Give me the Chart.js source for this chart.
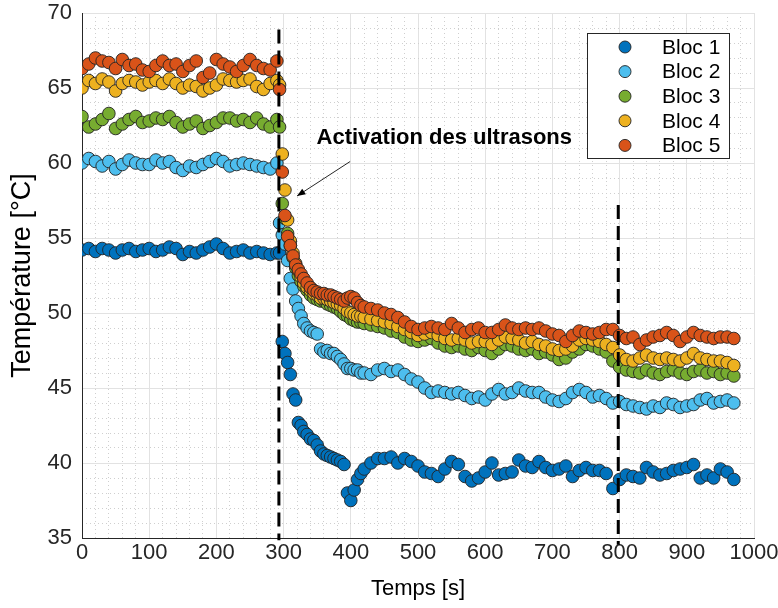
<!DOCTYPE html>
<html lang="fr">
<head>
<meta charset="utf-8">
<title>Température des blocs</title>
<script src="https://cdn.jsdelivr.net/npm/chart.js@4.4.1/dist/chart.umd.min.js"></script>
<style>
  html, body { margin: 0; padding: 0; background: #fff; }
  #wrap { width: 778px; height: 608px; }
</style>
</head>
<body>
<div id="wrap"><canvas id="chart-temperature" width="778" height="608"></canvas></div>
<script>
// Temps de mesure [s] (pas plus fin autour de l'activation des ultrasons)
const temps = [
    0, 10, 20, 30, 40, 50, 60, 70, 80, 90, 100, 110, 120, 130, 140, 150, 160, 170, 180, 190,
    200, 210, 220, 230, 240, 250, 260, 270, 280, 290,
    294,
    298, 302, 306, 310, 314, 318, 322, 326, 330,
    335, 340, 345, 350, 355, 360, 365, 370, 375, 380, 385, 390, 395, 400, 405, 410, 415, 420,
    430, 440, 450, 460, 470, 480, 490, 500, 510, 520, 530, 540, 550, 560, 570, 580, 590, 600,
    610, 620, 630, 640, 650, 660, 670, 680, 690, 700, 710, 720, 730, 740, 750, 760, 770, 780,
    790, 800, 810, 820, 830, 840, 850, 860, 870, 880, 890, 900, 910, 920, 930, 940, 950, 960, 970
];

// Températures [°C]
const bloc1 = [
    54.2, 54.3, 54.1, 54.3, 54.2, 54.0, 54.2, 54.3, 54.1, 54.2, 54.3, 54.1, 54.2, 54.4, 54.3, 53.9, 54.1, 54.0, 54.2, 54.4,
    54.6, 54.3, 54.0, 54.1, 54.2, 54.0, 54.1, 54.0, 53.9, 54.0,
    54.0,
    48.1, 47.3, 46.7, 45.9, 44.6, 44.2, 42.7, 42.5, 42.1,
    41.9, 41.6, 41.5, 41.2, 40.8, 40.6, 40.5, 40.4, 40.3, 40.2, 40.1, 39.9, 38.0, 37.5, 38.2, 38.9, 39.3, 39.6,
    40.0, 40.3, 40.3, 40.4, 40.0, 40.3, 40.1, 39.8, 39.4, 39.3, 39.1, 39.6, 40.1, 39.9, 39.1, 38.8, 39.0, 39.4,
    40.0, 39.2, 39.3, 39.4, 40.2, 39.8, 39.7, 40.1, 39.7, 39.5, 39.6, 39.8, 39.1, 39.5, 39.7, 39.5, 39.5, 39.3,
    38.3, 38.9, 39.2, 39.1, 39.0, 39.7, 39.4, 39.2, 39.3, 39.5, 39.6, 39.7, 39.9, 39.0, 39.2, 39.0, 39.6, 39.4, 38.9
];
const bloc2 = [
    60.0, 60.3, 60.1, 59.8, 60.1, 59.6, 59.9, 60.2, 60.0, 59.9, 59.9, 60.2, 60.0, 60.1, 59.7, 59.5, 59.8, 59.7, 59.9, 60.1,
    60.3, 60.1, 59.8, 59.9, 60.0, 59.9, 59.8, 59.7, 59.6, 60.0,
    56.0,
    55.2, 54.6, 53.5, 52.3, 51.6, 50.8, 50.3, 49.8, 49.3,
    49.0, 48.8, 48.7, 48.6, 47.6, 47.4, 47.5, 47.3, 47.3, 47.1, 46.9, 46.6, 46.3, 46.3, 46.2, 46.2, 46.0, 46.0,
    45.9, 46.2, 46.3, 46.1, 46.2, 45.9, 45.6, 45.4, 45.0, 44.7, 44.8, 44.7, 44.6, 44.7, 44.5, 44.3, 44.4, 44.2,
    44.6, 44.9, 44.6, 44.7, 45.0, 44.8, 44.7, 44.7, 44.4, 44.2, 44.1, 44.3, 44.7, 44.9, 44.7, 44.4, 44.5, 44.3,
    44.0, 44.1, 43.9, 43.8, 43.7, 43.6, 43.8, 43.7, 44.0, 43.9, 43.7, 43.8, 43.9, 44.2, 44.3, 44.0, 44.1, 44.2, 44.0
];
const bloc3 = [
    63.1, 62.4, 62.6, 62.9, 63.3, 62.3, 62.6, 62.9, 63.1, 62.7, 62.8, 63.0, 62.9, 63.1, 62.7, 62.4, 62.6, 62.8, 62.3, 62.5,
    62.7, 63.0, 63.0, 62.8, 62.9, 62.7, 63.0, 62.6, 62.4, 62.9,
    62.4,
    57.3, 56.3, 55.3, 54.5, 53.7, 53.0, 52.5, 52.1, 51.8,
    51.5, 51.2, 51.0, 50.9, 50.8, 50.8, 50.6, 50.5, 50.4, 50.3, 50.1, 49.9, 49.8, 49.6, 49.5, 49.4, 49.4, 49.3,
    49.2, 49.1, 49.0, 48.8, 48.7, 48.4, 48.2, 48.1, 48.2, 48.3, 48.0, 47.8, 47.7, 47.8, 47.6, 47.5, 47.7, 47.5,
    47.3, 47.6, 47.9, 47.8, 47.6, 47.5, 47.6, 47.3, 47.4, 47.2, 46.9, 47.0, 47.4, 47.6, 47.9, 47.8, 47.6, 47.4,
    46.8, 46.4, 46.2, 46.1, 46.0, 46.2, 46.0, 45.9, 46.1, 46.2, 46.0, 45.9, 46.1, 46.2, 46.0, 46.1, 45.9, 46.0, 45.8
];
const bloc4 = [
    65.0, 65.5, 65.3, 65.6, 65.4, 64.8, 65.3, 65.5, 65.4, 65.2, 65.4, 65.5, 65.3, 65.6, 65.3, 65.0, 65.2, 65.1, 64.8, 65.0,
    65.2, 65.6, 65.5, 65.4, 65.5, 65.6, 65.1, 64.9, 65.3, 65.5,
    65.2,
    60.6, 58.2, 56.2, 54.8, 54.0, 53.3, 52.8, 52.4, 52.0,
    51.7, 51.5, 51.3, 51.2, 51.0, 51.0, 50.9, 50.8, 50.7, 50.6, 50.5, 50.3, 50.1, 50.0, 49.9, 49.8, 49.8, 49.7,
    49.6, 49.5, 49.4, 49.3, 49.1, 48.9, 48.7, 48.5, 48.6, 48.7, 48.5, 48.3, 48.2, 48.3, 48.2, 48.0, 48.1, 48.1,
    47.9, 48.2, 48.4, 48.3, 48.2, 48.0, 48.1, 47.9, 47.8, 47.6, 47.5, 47.6, 47.8, 48.2, 48.3, 48.2, 48.1, 47.9,
    47.7, 47.2, 46.9, 46.8, 47.0, 47.2, 47.0, 46.9, 47.0, 46.9, 46.8, 47.0, 47.3, 47.0, 46.9, 46.8, 46.8, 46.7, 46.5
];
const bloc5 = [
    66.3, 66.6, 67.0, 66.8, 66.7, 66.3, 66.9, 66.5, 66.6, 66.2, 66.1, 66.5, 66.8, 66.5, 66.6, 66.1, 66.5, 66.8, 65.7, 66.0,
    66.9, 66.6, 66.4, 66.1, 66.5, 66.9, 66.5, 66.3, 66.2, 66.8,
    64.9,
    59.4, 56.5, 55.1, 54.5, 53.8, 53.2, 52.9, 52.6, 52.3,
    52.0, 51.7, 51.5, 51.4, 51.3, 51.3, 51.2, 51.2, 51.1, 51.0, 50.9, 50.8, 51.0, 51.1, 51.0, 50.7, 50.5, 50.4,
    50.3, 50.2, 50.0, 49.9, 49.7, 49.4, 49.1, 48.9, 49.0, 49.1, 49.0, 48.9, 49.3, 49.0, 48.7, 48.9, 49.0, 48.7,
    48.7, 48.9, 49.2, 49.0, 48.9, 49.0, 48.9, 49.0, 48.8, 48.6, 48.5, 48.1, 48.5, 48.8, 48.7, 48.6, 48.7, 48.9,
    48.9, 48.5, 48.3, 48.4, 47.9, 48.2, 48.4, 48.5, 48.7, 48.5, 48.1, 48.4, 48.7, 48.5, 48.4, 48.3, 48.4, 48.4, 48.3
];

const nomsBlocs = ['Bloc 1', 'Bloc 2', 'Bloc 3', 'Bloc 4', 'Bloc 5'];
const couleursBlocs = ['#0072BD', '#4DBEEE', '#77AC30', '#EDB120', '#D95319'];
const seriesBlocs = [bloc1, bloc2, bloc3, bloc4, bloc5];

// Repères verticaux (tirets) : [temps, T bas, T haut]
const reperes = [[293, 34.85, 68.9], [798, 34.55, 57.2]];
const texteActivation = 'Activation des ultrasons';

const FONT = "'Liberation Sans', Arial, Helvetica, sans-serif";
Chart.defaults.font.family = FONT;
Chart.defaults.color = '#262626';

seriesBlocs.forEach((s, i) => {
    if (s.length !== temps.length) console.error(nomsBlocs[i] + ' : ' + s.length + ' valeurs pour ' + temps.length + ' temps');
});

const datasets = seriesBlocs.map((serie, i) => ({
    label: nomsBlocs[i],
    data: serie.map((v, k) => ({ x: temps[k], y: v })),
    backgroundColor: couleursBlocs[i],
    borderColor: 'rgba(35,35,35,0.9)',
    borderWidth: 1,
    pointRadius: 6.3,
    pointHoverRadius: 6.3,
    showLine: false,
    order: 5 - i   // Bloc 5 dessiné au-dessus
}));

// tirets verticaux + flèche + texte
const annotations = {
    id: 'annotations',
    afterDatasetsDraw(chart) {
        const { ctx, scales: { x, y } } = chart;
        ctx.save();
        ctx.strokeStyle = '#000';
        ctx.lineWidth = 3;
        ctx.setLineDash([14, 7]);
        reperes.forEach(r => {
            const px = x.getPixelForValue(r[0]);
            ctx.beginPath();
            ctx.moveTo(px, y.getPixelForValue(r[2]));
            ctx.lineTo(px, y.getPixelForValue(r[1]));
            ctx.stroke();
        });
        ctx.restore();

        // flèche
        const x1 = x.getPixelForValue(399), y1 = y.getPixelForValue(60.1);
        const x2 = x.getPixelForValue(320), y2 = y.getPixelForValue(57.8);
        const ang = Math.atan2(y2 - y1, x2 - x1);
        ctx.save();
        ctx.strokeStyle = '#262626';
        ctx.fillStyle = '#000';
        ctx.lineWidth = 1;
        ctx.beginPath();
        ctx.moveTo(x1, y1);
        ctx.lineTo(x2, y2);
        ctx.stroke();
        ctx.beginPath();
        ctx.moveTo(x2, y2);
        ctx.lineTo(x2 - 9 * Math.cos(ang - 0.38), y2 - 9 * Math.sin(ang - 0.38));
        ctx.lineTo(x2 - 9 * Math.cos(ang + 0.38), y2 - 9 * Math.sin(ang + 0.38));
        ctx.closePath();
        ctx.fill();

        ctx.font = 'bold 22px ' + FONT;
        ctx.textAlign = 'left';
        ctx.textBaseline = 'middle';
        ctx.fillText(texteActivation, x.getPixelForValue(349), y.getPixelForValue(61.7));
        ctx.restore();
    },
    afterDraw(chart) {
        // légende encadrée en haut à droite
        const { ctx, chartArea } = chart;
        const bx = chartArea.right - 167, by = chartArea.top + 20, bw = 142, bh = 125;
        ctx.save();
        ctx.fillStyle = '#fff';
        ctx.fillRect(bx, by, bw, bh);
        ctx.strokeStyle = '#262626';
        ctx.lineWidth = 1;
        ctx.strokeRect(bx + 0.5, by + 0.5, bw, bh);
        ctx.font = '21px ' + FONT;
        ctx.textBaseline = 'middle';
        ctx.textAlign = 'left';
        chart.data.datasets.forEach((ds, i) => {
            const cy = by + 14 + i * 24.6;
            ctx.beginPath();
            ctx.arc(bx + 38, cy, 6, 0, Math.PI * 2);
            ctx.fillStyle = ds.backgroundColor;
            ctx.fill();
            ctx.strokeStyle = 'rgba(35,35,35,0.9)';
            ctx.stroke();
            ctx.fillStyle = '#000';
            ctx.fillText(ds.label, bx + 75, cy + 1);
        });
        ctx.restore();
    }
};

const gridMajeur = '#e2e2e2';
const gridMineur = (ctx, pas) => (ctx.tick && Math.abs(ctx.tick.value % pas) < 1e-6) ? 'rgba(0,0,0,0)' : '#cfcfcf';

new Chart(document.getElementById('chart-temperature'), {
    type: 'scatter',
    data: { datasets: datasets },
    plugins: [annotations],
    options: {
        responsive: false,
        animation: false,
        events: [],
        layout: { padding: { left: 0, top: 13, right: 24, bottom: 0 } },
        plugins: {
            legend: { display: false },
            tooltip: { enabled: false }
        },
        scales: {
            x: {
                type: 'linear',
                position: 'bottom',
                min: 0,
                max: 1000,
                afterFit: s => { s.height = 70; s.paddingLeft = 0; s.paddingRight = 0; },
                ticks: { stepSize: 100, font: { size: 22 }, color: '#262626', padding: 2, maxRotation: 0,
                         callback: v => String(v) },
                grid: { color: gridMajeur, drawTicks: false },
                border: { color: '#262626', width: 1 },
                title: { display: true, text: 'Temps [s]', font: { size: 22 }, color: '#000', padding: { top: 2, bottom: 6 } }
            },
            xm: {
                type: 'linear',
                position: 'bottom',
                min: 0,
                max: 1000,
                afterFit: s => { s.height = 0; s.paddingLeft = 0; s.paddingRight = 0; },
                ticks: { stepSize: 20, display: false },
                grid: { color: c => gridMineur(c, 100), drawTicks: false },
                border: { display: false, dash: [1, 3] }
            },
            y: {
                type: 'linear',
                position: 'left',
                min: 35,
                max: 70,
                afterFit: s => { s.width = 82; s.paddingTop = 0; s.paddingBottom = 0; },
                ticks: { stepSize: 5, font: { size: 22 }, color: '#262626', padding: 10 },
                grid: { color: gridMajeur, drawTicks: false },
                border: { color: '#262626', width: 1 },
                title: { display: true, text: 'Température [°C]', font: { size: 27 }, color: '#000', padding: { top: 6, bottom: 4 } }
            },
            ym: {
                type: 'linear',
                position: 'left',
                min: 35,
                max: 70,
                afterFit: s => { s.width = 0; s.paddingTop = 0; s.paddingBottom = 0; },
                ticks: { stepSize: 1, display: false },
                grid: { color: c => gridMineur(c, 5), drawTicks: false },
                border: { display: false, dash: [1, 3] }
            }
        }
    }
});
</script>
</body>
</html>
